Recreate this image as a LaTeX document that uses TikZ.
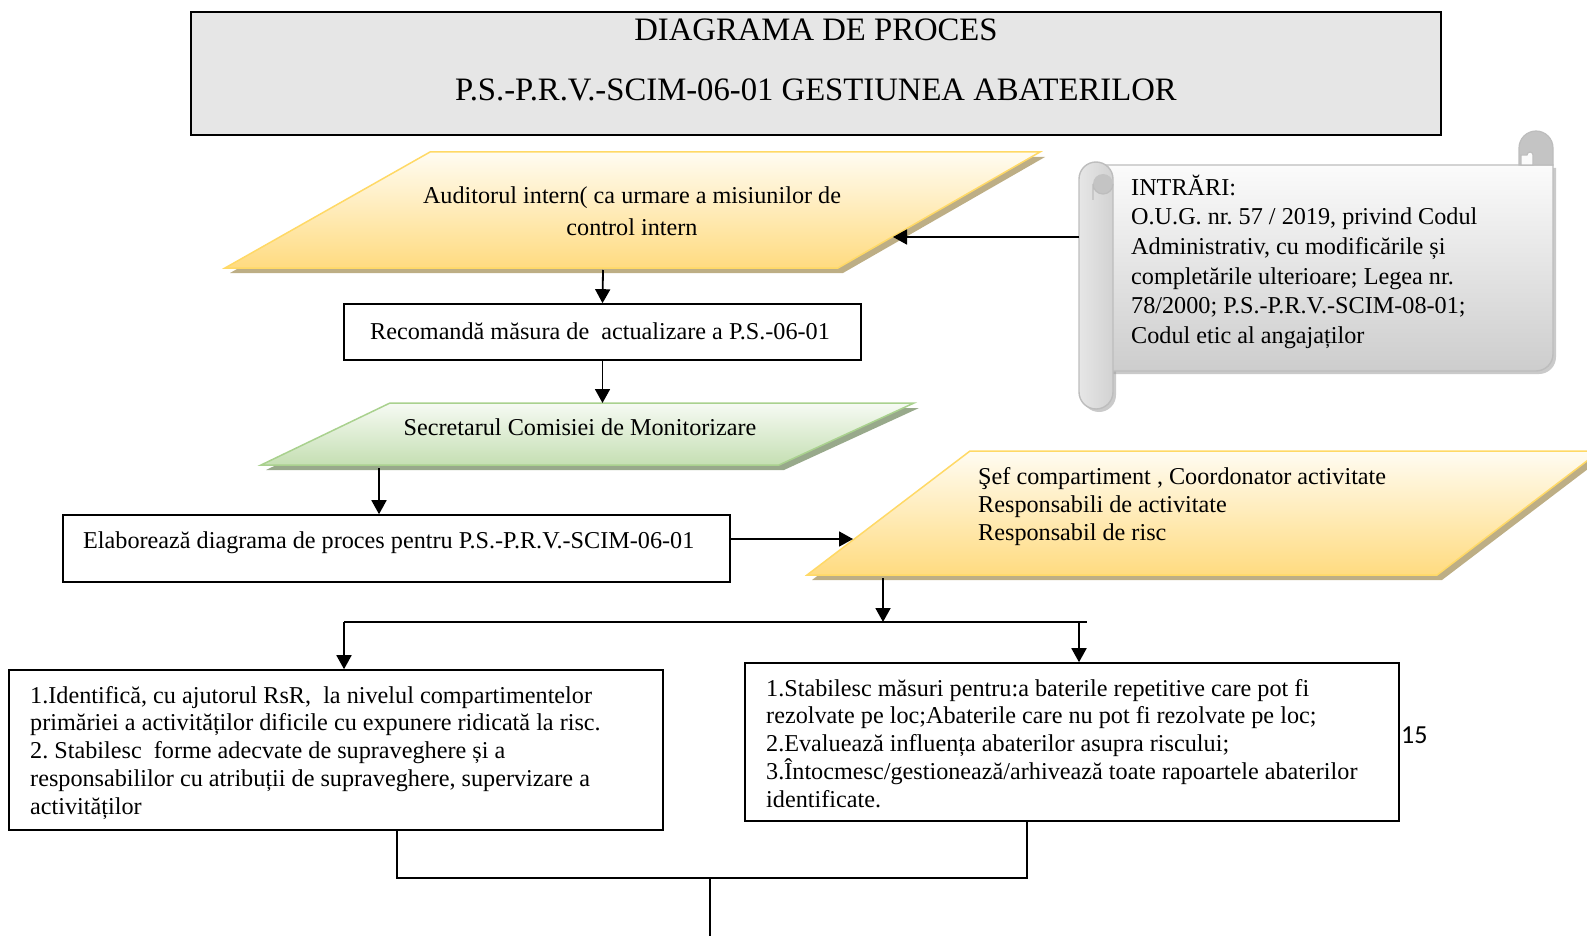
\documentclass[tikz,border=0pt]{standalone}
\usepackage{fontspec}
\setmainfont{Liberation Serif}
\newfontfamily\pagenumfont{Carlito}
\usetikzlibrary{arrows.meta}
\definecolor{titlegray}{HTML}{E6E6E6}
\definecolor{ytop}{HTML}{FFFCF2}
\definecolor{ybot}{HTML}{FFDB80}
\definecolor{ybord}{HTML}{FFD966}
\definecolor{yshadow}{HTML}{BDAE85}
\definecolor{gtop}{HTML}{F6FAF3}
\definecolor{gbot}{HTML}{C5DFB3}
\definecolor{gbord}{HTML}{A9D18E}
\definecolor{gshadow}{HTML}{98A98B}
\definecolor{scrtop}{HTML}{FBFBFB}
\definecolor{scrbot}{HTML}{CDCDCD}
\definecolor{scrbord}{HTML}{BDBDBD}
\definecolor{rollgray}{HTML}{D2D2D2}
\definecolor{curlgray}{HTML}{C4C4C4}
\definecolor{scrshadow}{HTML}{9E9E9E}
\newcommand{\firstline}{\spaceskip=0pt\xspaceskip=0pt\rule{0pt}{22pt}}
\frenchspacing
\begin{document}
\begin{tikzpicture}[x=1pt,y=-1pt,
  conn/.style={line width=1.8pt,-{Triangle[length=14pt,width=15pt]}},
  plainline/.style={line width=1.8pt},
  procbox/.style={draw,line width=1.6pt,fill=white,inner sep=0pt},
  txt/.style={inner sep=0pt,font=\fontsize{24.2}{27.7}\selectfont},
  multitxt/.style={txt,anchor=north west,align=left,text width=#1},
  titletxt/.style={inner sep=0pt,anchor=base,font=\fontsize{32.7}{40}\selectfont},
  yellowpar/.style={top color=ytop,bottom color=ybot,draw=ybord,line width=1.5pt},
  greenpar/.style={top color=gtop,bottom color=gbot,draw=gbord,line width=1.5pt},
]
\useasboundingbox (0,0) rectangle (1587,936);

% ---------- title ----------
\node[draw,line width=1.6pt,fill=titlegray,minimum width=1250pt,minimum height=123pt,
      anchor=north west,inner sep=0pt] (title) at (190,11) {};
\node[titletxt] (title1) at (816,40.5) {DIAGRAMA DE PROCES};
\node[titletxt] (title2) at (816,101) {P.S.-P.R.V.-SCIM-06-01 GESTIUNEA ABATERILOR};

% ---------- scroll (inputs) ----------
\fill[scrshadow,opacity=0.55,shift={(3,3)}] (1096,165) -- (1553,165) -- (1553,354) arc (0:90:17) -- (1096,371) -- cycle;
\fill[scrshadow,opacity=0.55,shift={(3,3)},rounded corners=17] (1079,162) rectangle (1113,409);
\shade[top color=scrtop,bottom color=scrbot,draw=scrbord,line width=1.4pt]
  (1096,165) -- (1553,165) -- (1553,354) arc (0:90:17) -- (1096,371) -- cycle;
% top-right curl
\fill[curlgray,draw=scrbord,line width=1.2pt]
  (1519,165) -- (1519,148) arc (180:360:17) -- (1553,165) -- cycle;
\fill[scrtop,draw=scrbord,line width=1.2pt] (1521,165) -- (1521,155) -- (1527,155) arc (180:360:3) -- (1533,165) -- cycle;
% left roll
\shade[left color=rollgray!55!white,right color=rollgray,draw=scrbord,line width=1.4pt,rounded corners=17]
  (1079,162) rectangle (1113,409);
\fill[curlgray] (1103,184) circle (10);
\draw[scrbord,line width=1.2pt] (1113,184) arc (0:180:10) -- (1093,200);
\coordinate (scrl) at (1079,237);
\node[multitxt=430pt,font=\fontsize{24.2}{29.7}\selectfont] (inputs) at (1131,173)
  {\firstline INTRĂRI:\\
   O.U.G. nr. 57 / 2019, privind Codul\\
   Administrativ, cu modificările și\\
   completările ulterioare; Legea nr.\\
   78/2000; P.S.-P.R.V.-SCIM-08-01;\\
   Codul etic al angajaților};

% ---------- parallelogram 1 (auditor) ----------
\fill[yshadow,shift={(5,5)}] (430,152) -- (1040,152) -- (838,268) -- (225,268) -- cycle;
\shade[yellowpar] (430,152) -- (1040,152) -- (838,268) -- (225,268) -- cycle;
\node[txt,anchor=base] (aud1) at (632,204) {Auditorul intern( ca urmare a misiunilor de};
\node[txt,anchor=base] (aud2) at (632,235) {control intern};
\coordinate (p1r) at (893,237);
\coordinate (p1b) at (603,270);
\draw[conn] (scrl) -- (p1r);

% ---------- recommendation box ----------
\node[procbox,minimum width=517pt,minimum height=56pt] (rec) at (602.5,332) {};
\node[txt,anchor=base] (rectxt) at (600,339) {Recomandă măsura de~ actualizare a P.S.-06-01};
\draw[conn] (p1b) -- (rec.north);

% ---------- green parallelogram ----------
\fill[gshadow,shift={(5,5)}] (390,403) -- (914,403) -- (779,465) -- (261,465) -- cycle;
\shade[greenpar] (390,403) -- (914,403) -- (779,465) -- (261,465) -- cycle;
\node[txt,anchor=base] (secr) at (580,435) {Secretarul Comisiei de Monitorizare};
\coordinate (gt) at (602.5,403);
\coordinate (gb) at (379,468);
\draw[conn] (rec.south) -- (gt);

% ---------- elaboration box ----------
\node[procbox,minimum width=667pt,minimum height=67pt] (elab) at (396.5,548.5) {};
\node[txt,anchor=base west] (elabtxt) at (83,548) {Elaborează diagrama de proces pentru P.S.-P.R.V.-SCIM-06-01};
\draw[conn] (gb) -- (gb |- elab.north);

% ---------- parallelogram 2 (responsabili) ----------
\fill[yshadow,shift={(5,5)}] (970,451) -- (1600,451) -- (1437,575) -- (807,575) -- cycle;
\shade[yellowpar] (970,451) -- (1600,451) -- (1437,575) -- (807,575) -- cycle;
\node[multitxt=560pt,font=\fontsize{24.2}{28}\selectfont] (resp) at (978,462)
  {\firstline Şef compartiment , Coordonator activitate\\
   Responsabili de activitate\\
   Responsabil de risc};
\coordinate (p2l) at (853,539);
\coordinate (p2b) at (883,578);
\draw[conn] (elab.east |- p2l) -- (p2l);

% ---------- split ----------
\coordinate (split) at (883,622);
\coordinate (hl) at (344,622);
\coordinate (hr) at (1087,622);
\coordinate (hrd) at (1079,622);
\draw[conn] (p2b) -- (split);
\draw[plainline] (hl) -- (hr);

% ---------- left box ----------
\node[procbox,minimum width=654pt,minimum height=160pt] (lbox) at (336,750) {};
\node[multitxt=640pt] (ltxt) at (30,681)
  {\firstline 1.Identifică, cu ajutorul RsR,~ la nivelul compartimentelor\\
   primăriei a activităților dificile cu expunere ridicată la risc.\\
   2. Stabilesc~ forme adecvate de supraveghere și a\\
   responsabililor cu atribuții de supraveghere, supervizare a\\
   activităților};
\draw[conn] (hl) -- (hl |- lbox.north);

% ---------- right box ----------
\node[procbox,minimum width=654pt,minimum height=158pt] (rbox) at (1072,742) {};
\node[multitxt=630pt] (rtxt) at (766,674)
  {\firstline 1.Stabilesc măsuri pentru:a baterile repetitive care pot fi\\
   rezolvate pe loc;Abaterile care nu pot fi rezolvate pe loc;\\
   2.Evaluează influența abaterilor asupra riscului;\\
   3.Întocmesc/gestionează/arhivează toate rapoartele abaterilor\\
   identificate.};
\draw[conn] (hrd) -- (hrd |- rbox.north);

\node[inner sep=0pt,anchor=base west,font=\pagenumfont\fontsize{26}{30}\selectfont] (pgnum) at (1401,743) {15};

% ---------- join ----------
\coordinate (jl) at (397,878);
\coordinate (jr) at (1027,878);
\coordinate (jm) at (710,878);
\coordinate (jend) at (710,936);
\draw[plainline] (jl |- lbox.south) -- (jl) -- (jr) -- (jr |- rbox.south);
\draw[plainline] (jm) -- (jend);
\end{tikzpicture}
\end{document}
